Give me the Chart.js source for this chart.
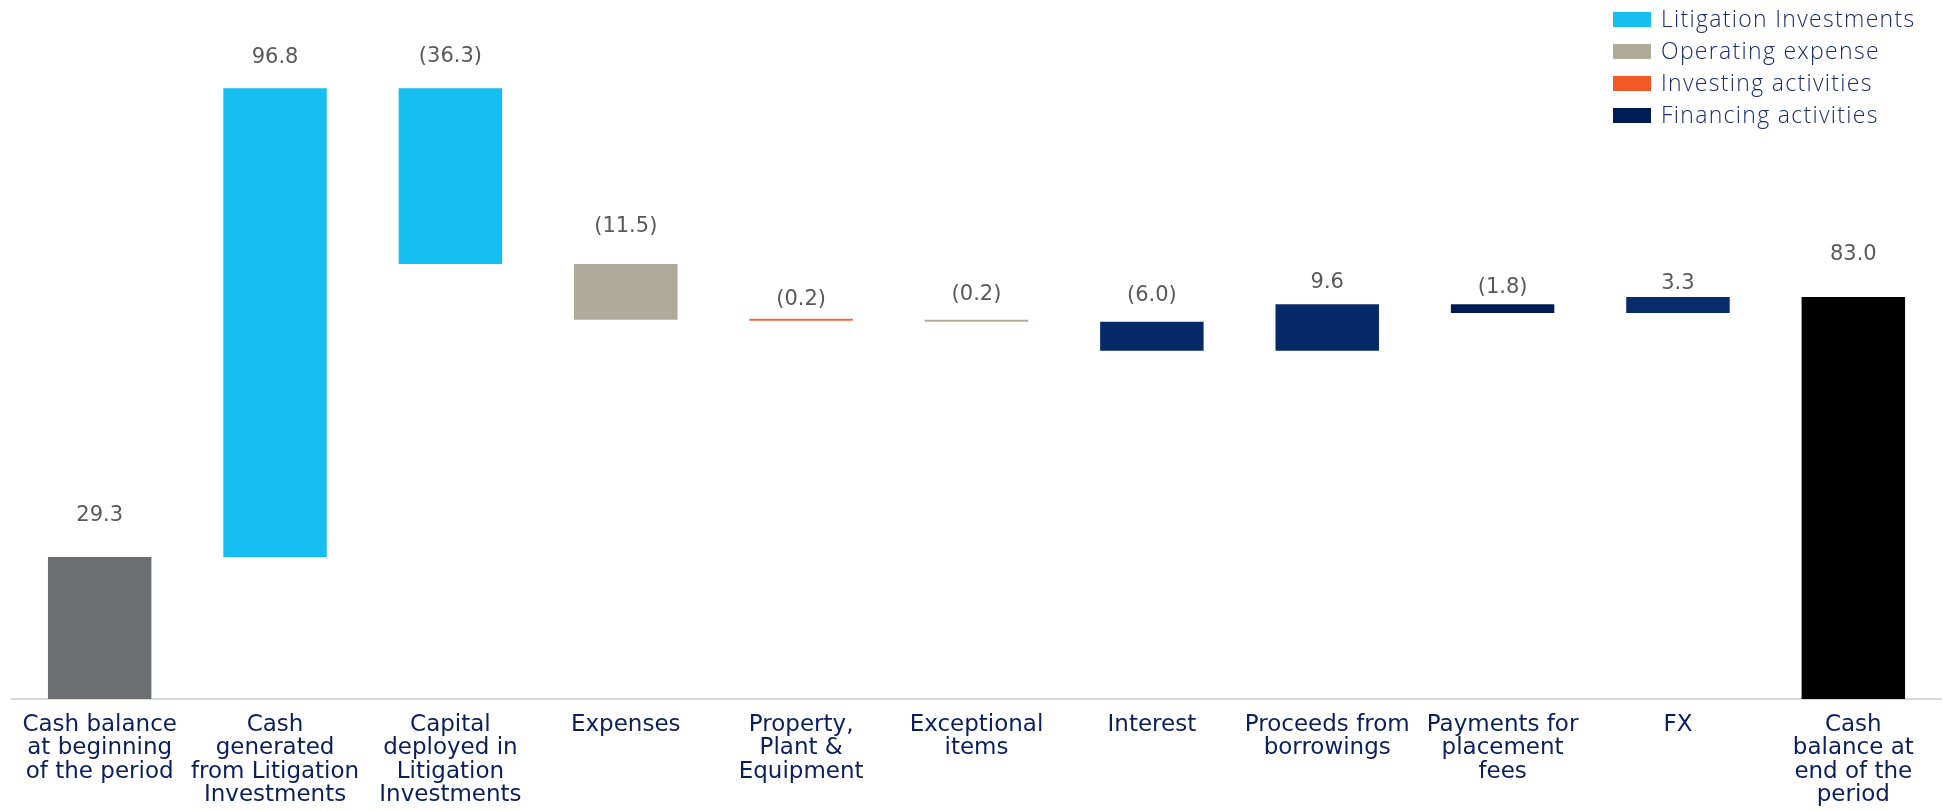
<!DOCTYPE html>
<html>
<head>
<meta charset="utf-8">
<title>Cash flow waterfall</title>
<script src="https://cdn.jsdelivr.net/npm/chart.js@4.4.1/dist/chart.umd.min.js"></script>
<style>
  html, body { margin: 0; padding: 0; background: #ffffff; }
  #wrap { width: 1946px; height: 811px; }
</style>
</head>
<body>
<div id="wrap"><canvas id="cashChart" width="1946" height="811"></canvas></div>
<script>
// category labels, one array of lines per bar
const categories = [
  ['Cash balance', 'at beginning', 'of the period'],
  ['Cash', 'generated', 'from Litigation', 'Investments'],
  ['Capital', 'deployed in', 'Litigation', 'Investments'],
  ['Expenses'],
  ['Property,', 'Plant &', 'Equipment'],
  ['Exceptional', 'items'],
  ['Interest'],
  ['Proceeds from', 'borrowings'],
  ['Payments for', 'placement', 'fees'],
  ['FX'],
  ['Cash', 'balance at', 'end of the', 'period']
];

// movement per bar (totals for first and last)
const movements = [29.3, 96.8, -36.3, -11.5, -0.2, -0.2, -6.0, 9.6, -1.8, 3.3, 83.0];
const isTotal = [true, false, false, false, false, false, false, false, false, false, true];

const legendLabels = ['Litigation Investments', 'Operating expense', 'Investing activities', 'Financing activities'];
const legendColors = ['#16bff0', '#aeab9a', '#f15a24', '#001c54'];

const barColors = ['#6d6e71', '#15bef0', '#15bef0', '#aeab9a', '#f26a35', '#aeab9a',
                   '#062a68', '#062a68', '#001c54', '#072b69', '#000000'];

// how far above each bar top the value label sits (px)
const labelGap = [42, 31, 32, 38, 19, 25, 26, 22, 17, 13, 42];

// build floating ranges for the waterfall
let running = 0;
const ranges = movements.map((v, i) => {
  if (isTotal[i]) {
    running = v;
    return [0, v];
  }
  const start = running;
  running = +(running + v).toFixed(1);
  return [start, running];
});

const fmt = v => v < 0 ? '(' + Math.abs(v).toFixed(1) + ')' : v.toFixed(1);

const valueLabels = {
  id: 'valueLabels',
  afterDatasetsDraw(chart) {
    const ctx = chart.ctx;
    const meta = chart.getDatasetMeta(0);
    ctx.save();
    ctx.font = '21px "DejaVu Sans"';
    ctx.fillStyle = '#595959';
    ctx.textAlign = 'center';
    ctx.textBaseline = 'middle';
    meta.data.forEach((bar, i) => {
      const top = Math.min(bar.y, bar.base);
      ctx.fillText(fmt(movements[i]), bar.x, top - labelGap[i]);
    });
    ctx.restore();
  }
};

const sideLegend = {
  id: 'sideLegend',
  afterDraw(chart) {
    const ctx = chart.ctx;
    ctx.save();
    ctx.font = '300 23px "Open Sans"';
    ctx.letterSpacing = '1.3px';
    ctx.textBaseline = 'middle';
    ctx.textAlign = 'left';
    legendLabels.forEach((txt, i) => {
      const cy = 19.5 + i * 32;
      ctx.fillStyle = legendColors[i];
      ctx.fillRect(1613, cy - 7.5, 38, 15);
      ctx.fillStyle = '#1a2d6b';
      ctx.fillText(txt, 1661, cy + 1);
    });
    ctx.restore();
  }
};

new Chart(document.getElementById('cashChart'), {
  type: 'bar',
  data: {
    labels: categories,
    datasets: [{
      data: ranges,
      backgroundColor: barColors,
      borderWidth: 0,
      borderSkipped: false,
      minBarLength: 2,
      barPercentage: 0.59,
      categoryPercentage: 1
    }]
  },
  options: {
    responsive: false,
    animation: false,
    layout: { padding: { top: 21, left: 12, right: 5, bottom: 0 } },
    plugins: {
      legend: { display: false },
      tooltip: { enabled: false }
    },
    scales: {
      x: {
        grid: { display: false, drawTicks: false },
        border: { display: true, color: '#d9d9d9', width: 2 },
        ticks: {
          autoSkip: false,
          maxRotation: 0,
          minRotation: 0,
          padding: 14,
          color: '#0b1f5c',
          font: { family: '"DejaVu Sans"', size: 23, lineHeight: 1.02 }
        },
        afterFit(scale) { scale.height = 112; }
      },
      y: {
        display: false,
        min: 0,
        max: 140
      }
    }
  },
  plugins: [valueLabels, sideLegend]
});
</script>
</body>
</html>
